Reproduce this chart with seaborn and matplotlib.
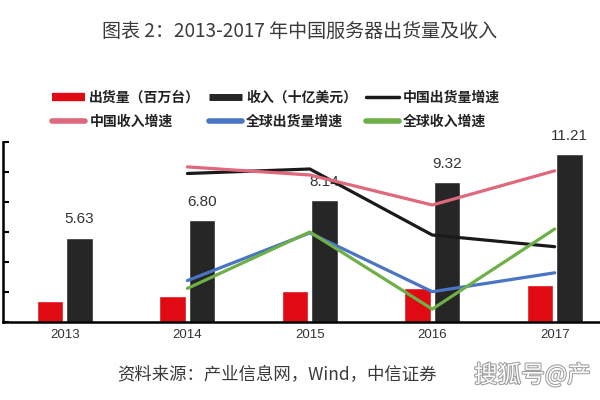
import numpy as np
import pandas as pd
import matplotlib
matplotlib.use("Agg")
import matplotlib.pyplot as plt
import matplotlib.patheffects as pe
from matplotlib.lines import Line2D
import seaborn as sns

# ---------------- data ----------------
years = ["2013", "2014", "2015", "2016", "2017"]
shipments = [1.41, 1.74, 2.08, 2.28, 2.48]          # 出货量（百万台）
revenue = [5.63, 6.80, 8.14, 9.32, 11.21]           # 收入（十亿美元）
cn_ship_growth = [np.nan, 39.5, 41.0, 19.0, 15.1]   # 中国出货量增速 (%)
cn_rev_growth = [np.nan, 41.7, 39.0, 29.0, 40.4]    # 中国收入增速 (%)
gl_ship_growth = [np.nan, 3.8, 19.7, 0.1, 6.4]      # 全球出货量增速 (%)
gl_rev_growth = [np.nan, 1.2, 20.0, -5.7, 21.0]     # 全球收入增速 (%)

bar_names = ["出货量（百万台）", "收入（十亿美元）"]
line_names = ["中国出货量增速", "中国收入增速", "全球出货量增速", "全球收入增速"]
title = "图表 2：2013-2017 年中国服务器出货量及收入"
source = "资料来源：产业信息网，Wind，中信证券"
watermark = "搜狐号@产"

# ---------------- style ----------------
sns.set_theme(style="white")
plt.rcParams['font.family'] = ['Noto Sans CJK SC', 'DejaVu Sans']

bar_colors = ["#E00A12", "#262626"]
line_colors = ["#1A1A1A", "#E0687C", "#4A74C4", "#6EAF48"]

bars_df = pd.DataFrame({
    "year": years * 2,
    "value": shipments + revenue,
    "series": [bar_names[0]] * 5 + [bar_names[1]] * 5,
})
lines_df = pd.DataFrame({
    "x": list(range(len(years))) * 4,
    "value": cn_ship_growth + cn_rev_growth + gl_ship_growth + gl_rev_growth,
    "series": sum([[n] * 5 for n in line_names], []),
})

fig = plt.figure(figsize=(6, 4), dpi=100)
ax = fig.add_axes([0.005, 0.195, 0.995, 0.45])

sns.barplot(data=bars_df, x="year", y="value", hue="series",
            palette=bar_colors, width=0.48, gap=0.1, saturation=1,
            legend=False, ax=ax)

ax.set_ylim(0, 12)
ax.set_yticks(np.arange(0, 13, 2))
ax.set_yticklabels([])
ax.tick_params(axis="y", direction="in", length=4, width=1.5, color="black", left=True)
ax.tick_params(axis="x", length=0, labelsize=9.5, labelcolor="#333333", pad=5)
for lab in ax.get_xticklabels():
    lab.set_fontfamily(["Liberation Sans", "DejaVu Sans"])
ax.set_xlabel("")
ax.set_ylabel("")
for s in ["top", "right"]:
    ax.spines[s].set_visible(False)
for s in ["left", "bottom"]:
    ax.spines[s].set_color("black")
    ax.spines[s].set_linewidth(1.8)

# value labels on revenue bars
for i, v in enumerate(revenue):
    ax.annotate(f"{v:.2f}", (i + 0.12, v), xytext=(0, 8), textcoords="offset points",
                ha="center", va="bottom", fontsize=11, color="#333333",
                family=["Liberation Sans", "DejaVu Sans"])

ax2 = ax.twinx()
sns.lineplot(data=lines_df, x="x", y="value", hue="series", palette=line_colors,
             linewidth=2.3, legend=False, ax=ax2)
ax2.set_ylim(-10, 50)
ax2.axis("off")
ax.set_xlim(-0.506, 4.37)
ax2.set_xlim(-0.506, 4.37)

# title and source
fig.text(0.5, 0.92, title, ha="center", va="center", fontsize=13.7, color="#3a3a3a")
fig.text(0.195, 0.0625, source, ha="left", va="center", fontsize=12.5, color="#3a3a3a")
fig.text(0.79, 0.0625, watermark, ha="left", va="center", fontsize=17,
         color="white", alpha=0.97,
         path_effects=[pe.withStroke(linewidth=1.5, foreground="#9a9a9a")])

# legend (row-major order)
handles = [
    Line2D([], [], color=bar_colors[0], lw=6, solid_capstyle="butt"),
    Line2D([], [], color=bar_colors[1], lw=5, solid_capstyle="butt"),
    Line2D([], [], color=line_colors[0], lw=2.5),
    Line2D([], [], color=line_colors[1], lw=4),
    Line2D([], [], color=line_colors[2], lw=4),
    Line2D([], [], color=line_colors[3], lw=4),
]
labels = bar_names + line_names
order = [0, 3, 1, 4, 2, 5]
fig.legend([handles[i] for i in order], [labels[i] for i in order],
           ncol=3, loc="center", bbox_to_anchor=(0.46, 0.726), frameon=False,
           prop={"size": 10, "weight": "bold"}, handlelength=2.4, handletextpad=0.3,
           columnspacing=0.6, labelspacing=0.75, labelcolor="#222222")

fig.savefig("out.png", dpi=100)
